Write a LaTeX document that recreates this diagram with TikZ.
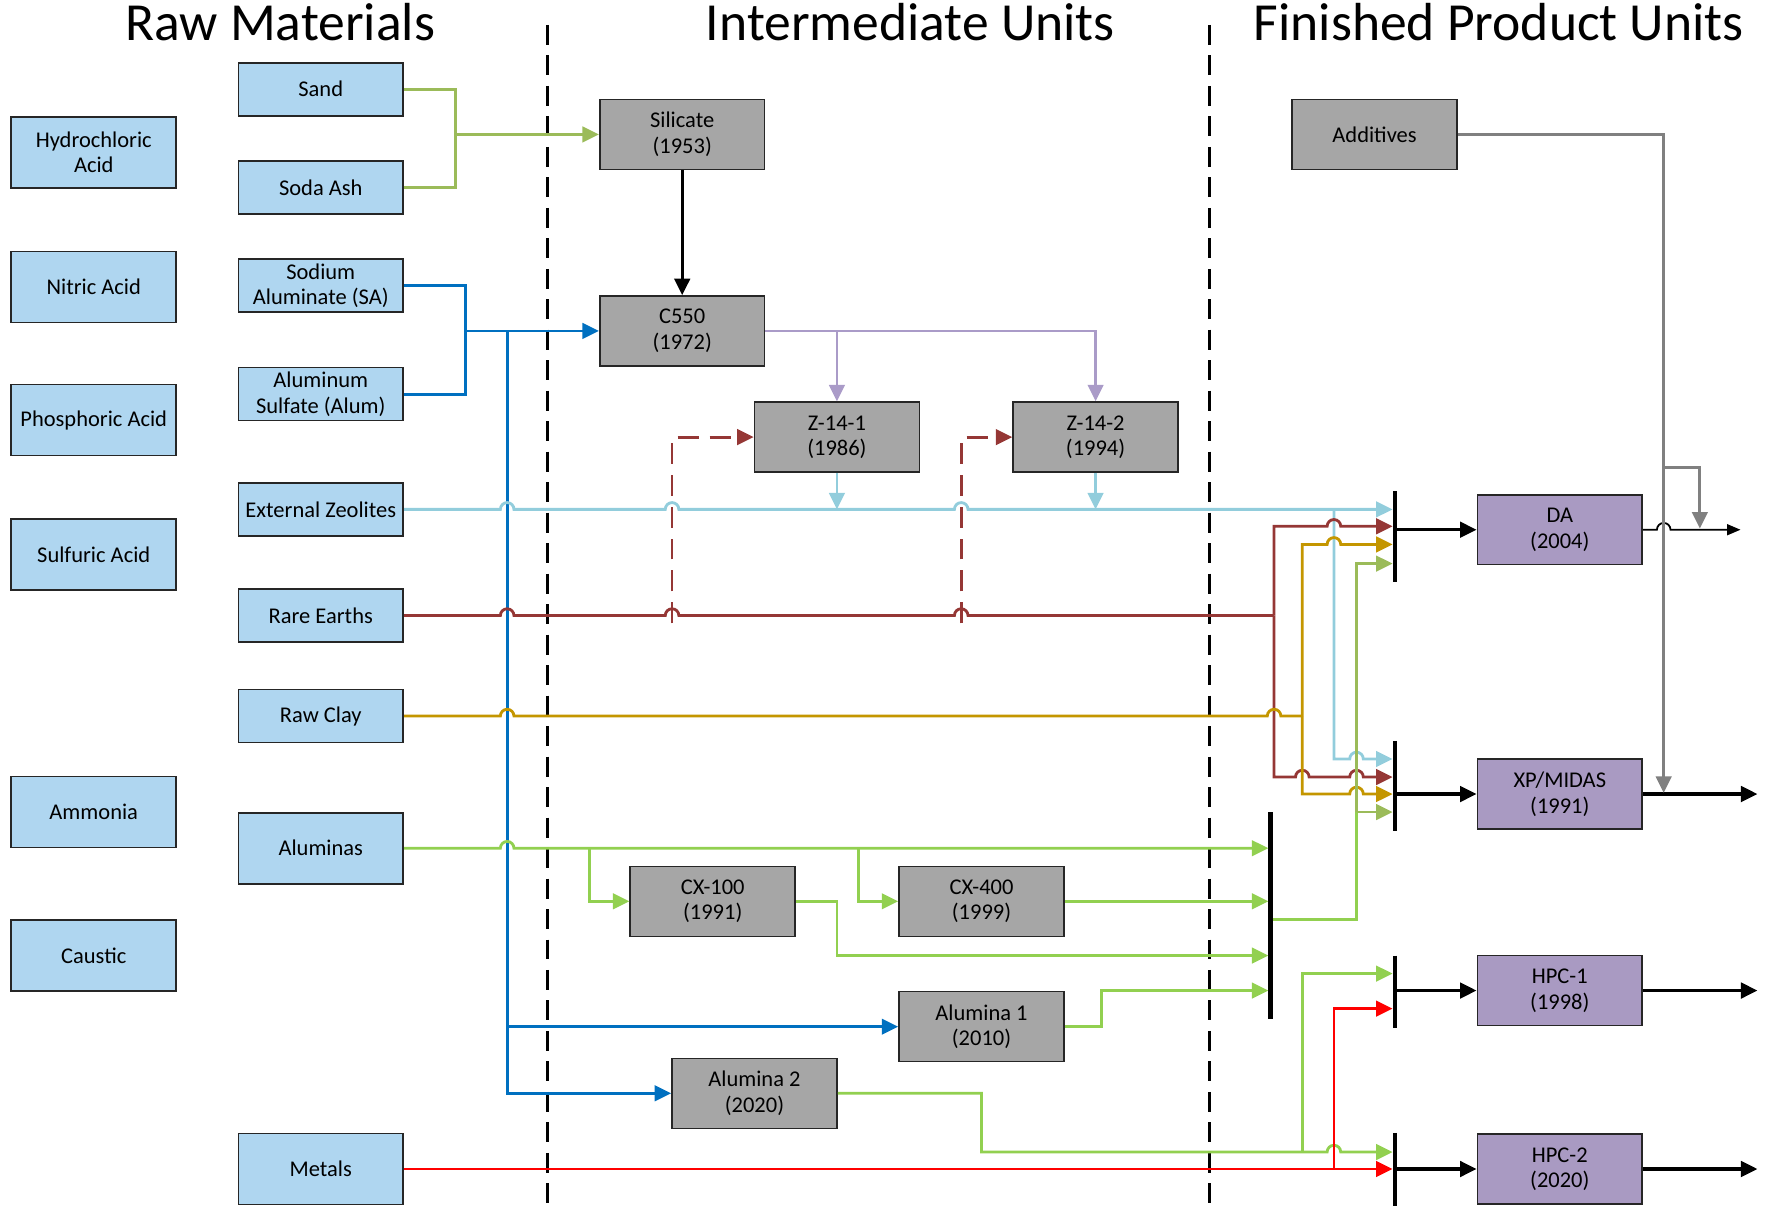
\documentclass[tikz,border=0pt]{standalone}
\usepackage{fontspec}
\setmainfont{Carlito}
\usetikzlibrary{arrows.meta,calc}

\definecolor{rawblue}{RGB}{175,214,240}
\definecolor{unitgray}{RGB}{166,166,166}
\definecolor{prodpurple}{RGB}{169,154,194}
\definecolor{sandgreen}{RGB}{155,187,89}
\definecolor{aluminagreen}{RGB}{146,208,80}
\definecolor{aluminateblue}{RGB}{0,112,192}
\definecolor{zeoblue}{RGB}{146,205,220}
\definecolor{rarebrown}{RGB}{149,55,53}
\definecolor{claygold}{RGB}{196,150,0}
\definecolor{c550lilac}{RGB}{170,155,200}
\definecolor{additivegray}{RGB}{128,128,128}

\tikzset{
  box/.style={draw=black!85,line width=0.9pt,minimum width=3.3cm,align=center,inner sep=1pt,font=\fontsize{12.8}{14.5}\selectfont},
  rawbox/.style={box,fill=rawblue,minimum height=1.06cm},
  acidbox/.style={box,fill=rawblue,minimum height=1.42cm},
  unitbox/.style={box,fill=unitgray,minimum height=1.4cm},
  prodbox/.style={box,fill=prodpurple,minimum height=1.4cm},
  title/.style={font=\fontsize{30.5}{36}\selectfont,anchor=base},
  feed/.style={line width=1.6pt},
  bus/.style={line width=2.6pt},
  sep/.style={line width=1.6pt,dash pattern=on 0.4cm off 0.21cm},
  redash/.style={dash pattern=on 0.42cm off 0.22cm},
  hop/.style={to path={-- ($(\tikztotarget)+(-6,0)$) arc[start angle=180,end angle=0,radius=0.136cm]}},
}

\begin{document}
\begin{tikzpicture}[x=0.0226cm,y=-0.0226cm,>={Triangle[length=0.33cm,width=0.31cm]}]
\useasboundingbox (0,0) rectangle (1568,1067);

\node[title] (rawtitle) at (248,36) {Raw Materials};
\node[title] (midtitle) at (806,36) {Intermediate Units};
\node[title] (endtitle) at (1327,36) {Finished Product Units};
\foreach \x in {485,1071}
  \draw[sep] (\x,22) -- (\x,1067);

\node[acidbox] (hcl) at (83,135) {Hydrochloric\\Acid};
\node[acidbox] (nitric) at (83,254) {Nitric Acid};
\node[acidbox] (phosphoric) at (83,372) {Phosphoric Acid};
\node[acidbox] (sulfuric) at (83,491) {Sulfuric Acid};
\node[acidbox] (ammonia) at (83,719) {Ammonia};
\node[acidbox] (caustic) at (83,846) {Caustic};

\node[rawbox] (sand) at (284,79) {Sand};
\node[rawbox] (sodaash) at (284,166) {Soda Ash};
\node[rawbox] (aluminate) at (284,253) {Sodium\\Aluminate (SA)};
\node[rawbox] (alum) at (284,349) {Aluminum\\Sulfate (Alum)};
\node[rawbox] (zeolites) at (284,451) {External Zeolites};
\node[rawbox] (rareearths) at (284,545) {Rare Earths};
\node[rawbox] (rawclay) at (284,634) {Raw Clay};
\node[acidbox] (aluminas) at (284,751) {Aluminas};
\node[acidbox] (metals) at (284,1035) {Metals};

\node[unitbox] (silicate) at (604,119) {Silicate\\(1953)};
\node[unitbox] (c550) at (604,293) {C550\\(1972)};
\node[unitbox] (z141) at (741,387) {Z-14-1\\(1986)};
\node[unitbox] (z142) at (970,387) {Z-14-2\\(1994)};
\node[unitbox] (cx100) at (631,798) {CX-100\\(1991)};
\node[unitbox] (cx400) at (869,798) {CX-400\\(1999)};
\node[unitbox] (alumina1) at (869,909) {Alumina 1\\(2010)};
\node[unitbox] (alumina2) at (668,968) {Alumina 2\\(2020)};
\node[unitbox] (additives) at (1217,119) {Additives};

\node[prodbox] (da) at (1381,469) {DA\\(2004)};
\node[prodbox] (xpmidas) at (1381,703) {XP/MIDAS\\(1991)};
\node[prodbox] (hpc1) at (1381,877) {HPC-1\\(1998)};
\node[prodbox] (hpc2) at (1381,1035) {HPC-2\\(2020)};

% mixing bars
\draw[bus] (1235,435) -- (1235,515);
\draw[bus] (1235,656) -- (1235,736);
\draw[bus] (1125,719) -- (1125,902);
\draw[bus] (1235,846) -- (1235,910);
\draw[bus] (1235,1003) -- (1235,1070);
\foreach \y [count=\i] in {451,466,482,499}
  \coordinate (da\i) at (1233,\y);
\foreach \y [count=\i] in {672,688,703,719}
  \coordinate (xp\i) at (1233,\y);
\foreach \y [count=\i] in {751,798,846,877}
  \coordinate (ab\i) at (1123,\y);
\coordinate (hpca1) at (1233,862);
\coordinate (hpca2) at (1233,893);
\coordinate (hpcb1) at (1233,1020);
\coordinate (hpcb2) at (1233,1035);

\coordinate (sandjoin) at (403,119);
\coordinate (aluminatejoin) at (412,293);
\coordinate (aluminatesplit) at (449,293);
\coordinate (rarejoin) at (1128,545);
\coordinate (clayjoin) at (1153,634);
\coordinate (zeosplit) at (1181,451);
\coordinate (cx100feed) at (522,751);
\coordinate (cx400feed) at (760,751);
\coordinate (abusout) at (1127,814);
\coordinate (greenrise) at (1201,719);
\coordinate (alu2split) at (1153,1020);
\coordinate (metalsplit) at (1181,1035);
\coordinate (addsplit) at (1473,414);
\coordinate (daadd) at (1505,468);
\coordinate (xpadd) at (1473,702);
\coordinate (daend) at (1541,469);
\coordinate (xpend) at (1556,703);
\coordinate (hpc1end) at (1556,877);
\coordinate (hpc2end) at (1556,1035);

% silicate and c550
\draw[feed,sandgreen] (sand.east) -| (sandjoin);
\draw[feed,sandgreen] (sodaash.east) -| (sandjoin);
\draw[feed,sandgreen,->] (sandjoin) -- (silicate.west);
\draw[line width=1.9pt,->] (silicate) -- (c550);
\draw[feed,aluminateblue] (aluminate.east) -| (aluminatejoin);
\draw[feed,aluminateblue] (alum.east) -| (aluminatejoin);
\draw[feed,aluminateblue,->] (aluminatejoin) -- (c550.west);
\draw[feed,aluminateblue,->] (aluminatesplit) |- (alumina1.west);
\draw[feed,aluminateblue,->] (aluminatesplit) |- (alumina2.west);
\draw[feed,c550lilac,->] (c550.east) -| (z142.north);
\draw[feed,c550lilac,->] (z141.north |- c550.east) -- (z141.north);

% zeolites
\draw[feed,zeoblue,->] (zeolites.east) to[hop] (449,451) to[hop] (595,451) to[hop] (851,451) -- (da1);
\draw[feed,zeoblue,->] (z141.south) -- (z141.south |- zeolites.east);
\draw[feed,zeoblue,->] (z142.south) -- (z142.south |- zeolites.east);
\draw[feed,zeoblue,->] (zeosplit) -- (1181,672) to[hop] (1201,672) -- (xp1);

% rare earths
\draw[feed,rarebrown] (rareearths.east) to[hop] (449,545) to[hop] (595,545) to[hop] (851,545) -- (rarejoin);
\draw[feed,rarebrown,redash,->] (595,552) |- (z141.west);
\draw[feed,rarebrown,redash,->] (851,552) |- (z142.west);
\draw[feed,rarebrown,->] (rarejoin) -- (1128,466) to[hop] (1181,466) -- (da2);
\draw[feed,rarebrown,->] (rarejoin) -- (1128,688) to[hop] (1153,688) to[hop] (1201,688) -- (xp2);

% raw clay
\draw[feed,claygold] (rawclay.east) to[hop] (449,634) to[hop] (1128,634) -- (clayjoin);
\draw[feed,claygold,->] (clayjoin) -- (1153,482) to[hop] (1181,482) -- (da3);
\draw[feed,claygold,->] (clayjoin) -- (1153,703) to[hop] (1201,703) -- (xp3);

% aluminas
\draw[feed,aluminagreen,->] (aluminas.east) to[hop] (449,751) -- (ab1);
\draw[feed,aluminagreen,->] (cx100feed) |- (cx100.west);
\draw[feed,aluminagreen,->] (cx400feed) |- (cx400.west);
\draw[feed,aluminagreen,->] (cx100.east) -- (741,798) |- (ab3);
\draw[feed,aluminagreen,->] (cx400.east) -- (ab2);
\draw[feed,aluminagreen,->] (alumina1.east) -- (975,909) |- (ab4);
\draw[feed,aluminagreen] (abusout) -| (greenrise);
\draw[feed,sandgreen,->] (greenrise) |- (da4);
\draw[feed,sandgreen,->] (greenrise) -- (xp4);

% alumina 2 and metals
\draw[feed,aluminagreen,->] (alumina2.east) -| (869,1020) to[hop] (1181,1020) -- (hpcb1);
\draw[feed,aluminagreen,->] (alu2split) |- (hpca1);
\draw[feed,red,->] (metals.east) -- (hpcb2);
\draw[feed,red,->] (metalsplit) |- (hpca2);

% products
\foreach \n in {da,xpmidas,hpc1,hpc2}
  \draw[line width=1.9pt,->] ($(\n.west)+(-72,0)$) -- (\n.west);
\draw[line width=1.9pt,->] (xpmidas.east) -- (xpend);
\draw[line width=1.9pt,->] (hpc1.east) -- (hpc1end);
\draw[line width=1.9pt,->] (hpc2.east) -- (hpc2end);
\draw[line width=1pt,-{Triangle[length=0.27cm,width=0.22cm]}] (da.east) to[hop] (1473,469) -- (daend);
\draw[line width=1.7pt,additivegray,->] (additives.east) -| (xpadd);
\draw[line width=1.7pt,additivegray,->] (addsplit) -| (daadd);
\end{tikzpicture}
\end{document}
